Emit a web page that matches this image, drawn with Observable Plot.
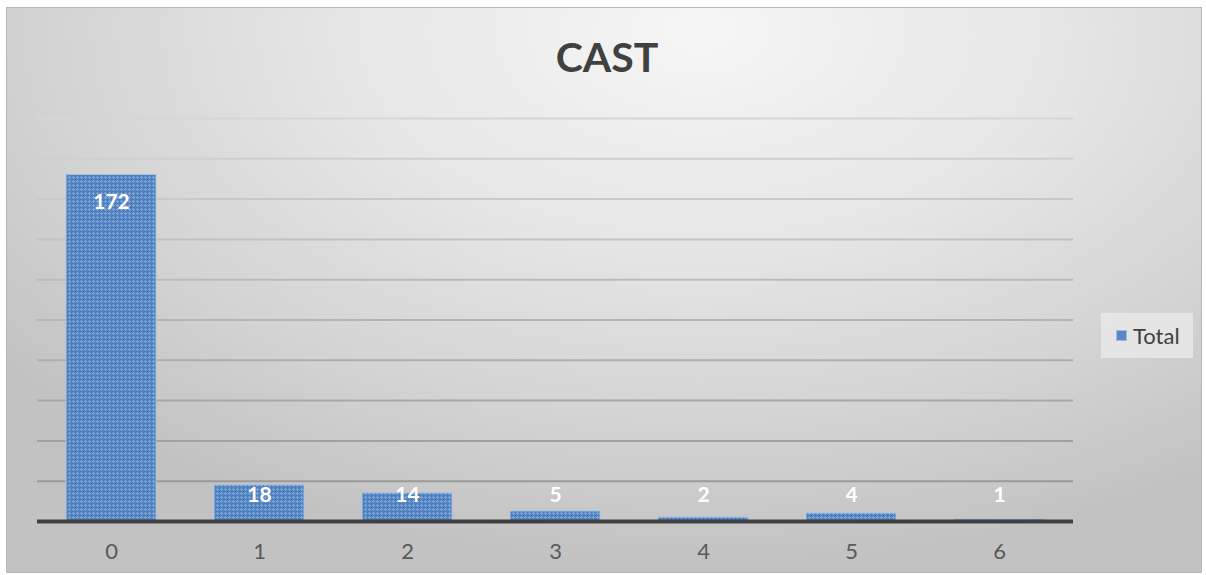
<!DOCTYPE html>
<html>
<head>
<meta charset="utf-8">
<script src="https://cdn.jsdelivr.net/npm/d3@7"></script>
<script src="https://cdn.jsdelivr.net/npm/@observablehq/plot@0.6"></script>
<style>
  html, body { margin: 0; padding: 0; background: #ffffff; }
  #wrap { position: relative; width: 1206px; height: 575px; overflow: hidden; }
  #frame {
    position: absolute; left: 6px; top: 7px; width: 1196px; height: 566px;
    border: 1px solid #b8b8b8; box-sizing: border-box;
    background: radial-gradient(ellipse 75% 95% at 58% 4%, #f6f6f6 0%, #e6e6e6 40%, #d4d4d4 72%, #c2c2c2 100%);
  }
  #title {
    position: absolute; left: 0; width: 1214px; top: 32px; text-align: center;
    font-family: Lato, "Open Sans", sans-serif; font-weight: 700; font-size: 41px; color: #404040;
  }
  #legend {
    position: absolute; left: 1101px; top: 313px; width: 92px; height: 45px; box-sizing: border-box;
    background: rgba(235,235,235,0.75);
    font-family: Lato, "Open Sans", sans-serif; font-size: 22px; color: #404040;
    display: flex; align-items: center; padding-left: 15px;
  }
  #legend .sw { width: 11px; height: 11px; background: #5a87c5; border: 1px solid #9dbbe3; margin-right: 6px; box-sizing: border-box; }
  #chart { position: absolute; left: 0; top: 0; }
</style>
</head>
<body>
<div id="wrap">
  <div id="frame"></div>
  <div id="title">CAST</div>
  <div id="chart"></div>
  <div id="legend"><span class="sw"></span><span>Total</span></div>
</div>
<script>
const categories = ["0", "1", "2", "3", "4", "5", "6"];
const totals = [172, 18, 14, 5, 2, 4, 1];
const gridValues = [20, 40, 60, 80, 100, 120, 140, 160, 180, 200];
const seriesName = "Total";

const data = categories.map((c, i) => ({category: c, value: totals[i]}));
const gridColor = d3.scaleLinear().domain([20, 200]).range(["#9a9a9a", "#d6d6d6"]);

const plot = Plot.plot({
  width: 1206,
  height: 575,
  marginLeft: 37,
  marginRight: 133,
  marginTop: 118,
  marginBottom: 54,
  style: {background: "transparent", overflow: "visible"},
  x: {domain: categories, paddingInner: 0.39, paddingOuter: 0.195, label: null},
  y: {domain: [0, 200], axis: null},
  marks: [
    Plot.ruleY(gridValues, {stroke: d => gridColor(d), strokeWidth: 2}),
    Plot.barY(data, {x: "category", y: "value", fill: "url(#barPattern)", stroke: "#a9c3e6", strokeWidth: 1}),
    Plot.ruleY([0], {stroke: "#404040", strokeWidth: 4}),
    Plot.axisX({
      tickSize: 0, tickPadding: 22, label: null,
      fontSize: 22, fontFamily: "Lato, 'Open Sans', sans-serif", fill: "#595959"
    }),
    Plot.text(data, {
      x: "category",
      y: d => Math.max(d.value - 13.5, 12.9),
      text: d => String(d.value),
      fill: "white",
      fontWeight: "bold",
      fontSize: 21,
      fontFamily: "Lato, 'Open Sans', sans-serif"
    })
  ]
});

const defs = d3.select(plot).insert("defs", ":first-child");
const pat = defs.append("pattern").attr("id", "barPattern").attr("patternUnits", "userSpaceOnUse")
  .attr("width", 4).attr("height", 4);
pat.append("rect").attr("width", 4).attr("height", 4).attr("fill", "#4f80c0");
pat.append("rect").attr("x", 1).attr("y", 0).attr("width", 1).attr("height", 3).attr("fill", "#80a5d7");
pat.append("rect").attr("x", 0).attr("y", 1).attr("width", 3).attr("height", 1).attr("fill", "#80a5d7");

document.getElementById("chart").appendChild(plot);
</script>
</body>
</html>
